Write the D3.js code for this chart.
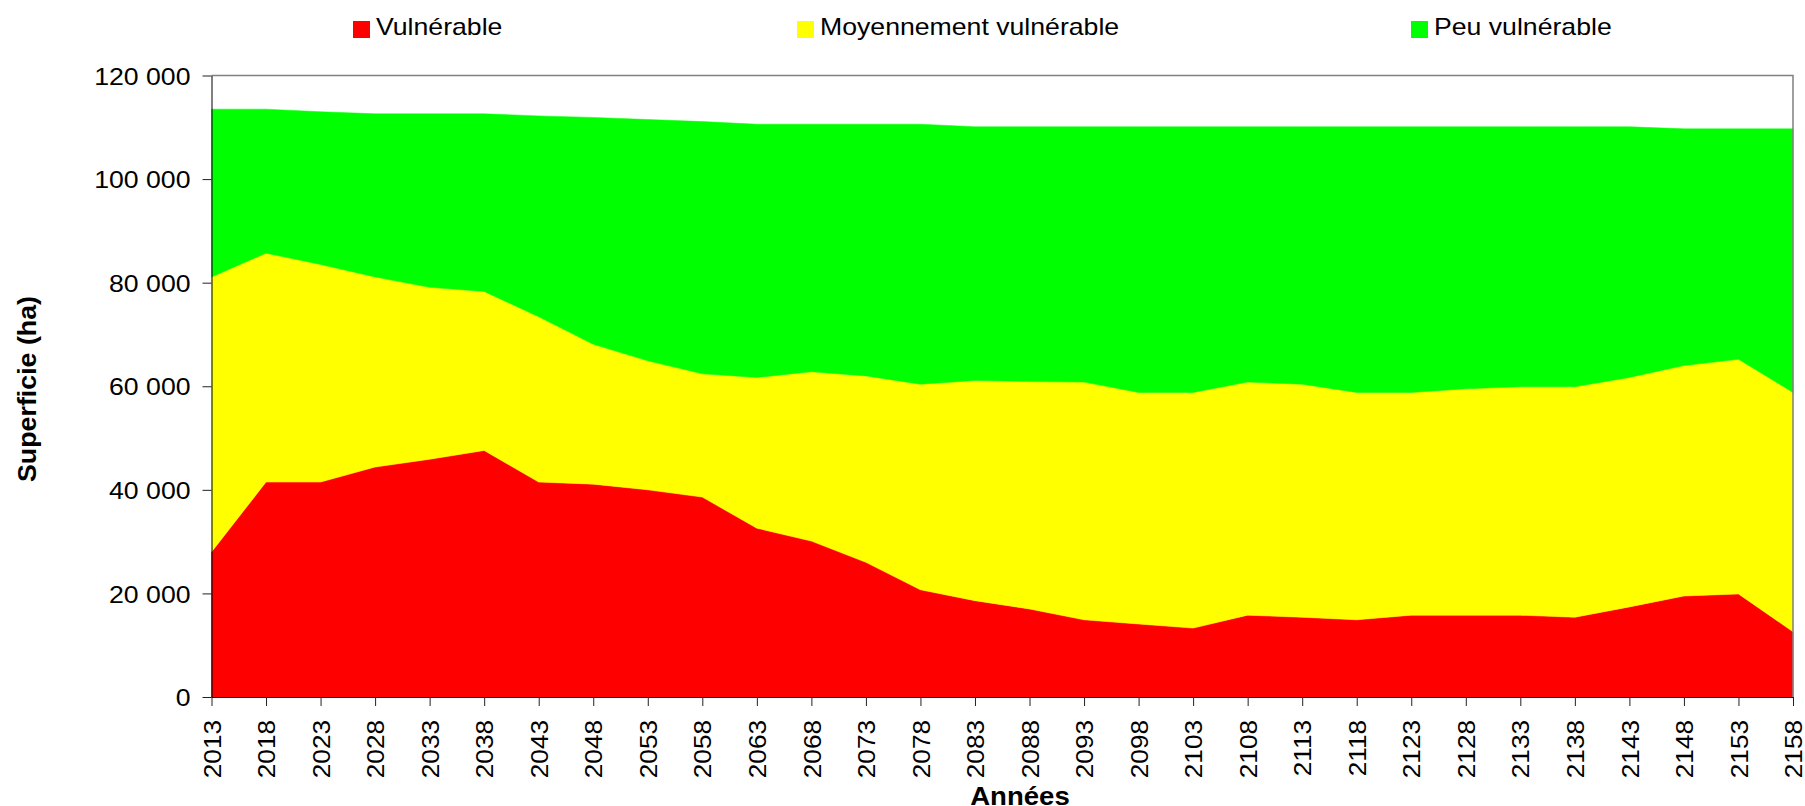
<!DOCTYPE html>
<html>
<head>
<meta charset="utf-8">
<script src="https://cdn.jsdelivr.net/npm/d3@7"></script>
<style>
  body { margin: 0; background: #fff; }
  text { font-family: "Liberation Sans", Arial, sans-serif; fill: #000; }
</style>
</head>
<body>
<svg id="chart" width="1805" height="806"></svg>
<script>
// années (tous les 5 ans)
var years = [2013, 2018, 2023, 2028, 2033, 2038, 2043, 2048, 2053, 2058,
  2063, 2068, 2073, 2078, 2083, 2088, 2093, 2098, 2103, 2108,
  2113, 2118, 2123, 2128, 2133, 2138, 2143, 2148, 2153, 2158]

// superficie (ha) par classe
var vulnerable = [28000, 41500, 41500, 44400, 45900, 47600, 41500, 41100, 40000, 38600,
  32600, 30100, 26000, 20700, 18600, 17000, 14900, 14100, 13300, 15800,
  15400, 14900, 15800, 15800, 15800, 15400, 17400, 19500, 19900, 12600]
var moyennement = [53100, 44200, 42000, 36700, 33200, 30700, 31900, 27000, 24900, 23800,
  29100, 32700, 36000, 39700, 42500, 43900, 45900, 44700, 45500, 45000,
  45000, 43900, 43000, 43700, 44100, 44500, 44300, 44500, 45300, 46200]
var peu = [32400, 27800, 29500, 31500, 33500, 34300, 38800, 43800, 46600, 48700,
  48900, 47800, 48600, 50200, 49000, 49200, 49300, 51300, 51300, 49300,
  49700, 51300, 51300, 50600, 50200, 50200, 48400, 45700, 44500, 50900]

var series = ['Vulnérable', 'Moyennement vulnérable', 'Peu vulnérable']
var colors = ['#ff0000', '#ffff00', '#00ff00']
var yTicks = [0, 20000, 40000, 60000, 80000, 100000, 120000]

var rows = years.map(function(y, i) {
  var r = { year: y }
  r[series[0]] = vulnerable[i]
  r[series[1]] = moyennement[i]
  r[series[2]] = peu[i]
  return r
})

// plot box (window.top is read-only, hence the prefix)
var pLeft = 211.5, pRight = 1793, pTop = 75.5, pBottom = 697

var svg = d3.select('#chart')

var x = d3.scalePoint().domain(years).range([pLeft, pRight]).padding(0)
var y = d3.scaleLinear().domain([0, 120000]).range([pBottom, pTop])

var fr = d3.formatLocale({ decimal: ',', thousands: ' ', grouping: [3], currency: ['', ''] })
var fmt = fr.format(',d')

// stretch text a little, the source font is wider than Arial
function widen(k) {
  return function() {
    var w = this.getComputedTextLength()
    d3.select(this).attr('textLength', w * k).attr('lengthAdjust', 'spacingAndGlyphs')
  }
}

var stacked = d3.stack().keys(series)(rows)

var area = d3.area()
  .x(function(d) { return x(d.data.year) })
  .y0(function(d) { return y(d[0]) })
  .y1(function(d) { return y(d[1]) })

svg.append('g')
  .selectAll('path')
  .data(stacked)
  .enter()
  .append('path')
  .attr('d', area)
  .style('fill', function(d, i) { return colors[i] })
  .style('stroke', function(d, i) { return colors[i] })
  .style('stroke-width', 0.5)

// plot frame (gris en haut et à droite)
svg.append('path')
  .attr('d', 'M' + pLeft + ',' + pTop + 'H' + pRight + 'V' + pBottom)
  .attr('fill', 'none')
  .attr('stroke', '#808080')
  .attr('stroke-width', 1.5)

// axe Y
var yAxis = svg.append('g')
  .attr('transform', 'translate(' + pLeft + ',0)')
  .call(d3.axisLeft(y).tickValues(yTicks).tickFormat(fmt).tickSize(9).tickSizeOuter(0).tickPadding(12))
yAxis.select('.domain').attr('stroke', '#000')
yAxis.selectAll('.tick line').attr('stroke', '#222')
yAxis.selectAll('text')
  .attr('font-size', 24)
  .attr('font-family', '"Liberation Sans", Arial, sans-serif')
  .attr('fill', '#000')
  .attr('dy', '0.36em')
  .each(widen(1.11))

// axe X
var xAxis = svg.append('g')
  .attr('transform', 'translate(0,' + pBottom + ')')
  .call(d3.axisBottom(x).tickSize(9).tickSizeOuter(0))
xAxis.select('.domain').attr('stroke', '#000')
xAxis.selectAll('.tick line').attr('stroke', '#222')
xAxis.selectAll('text')
  .attr('font-size', 24)
  .attr('font-family', '"Liberation Sans", Arial, sans-serif')
  .attr('fill', '#000')
  .attr('text-anchor', 'end')
  .attr('transform', 'translate(0,23) rotate(-90)')
  .attr('x', 0)
  .attr('y', 0)
  .attr('dy', '0.36em')
  .each(widen(1.09))

// titres
svg.append('text')
  .attr('transform', 'translate(35.5,389) rotate(-90)')
  .attr('text-anchor', 'middle')
  .attr('font-size', 26)
  .attr('font-weight', 'bold')
  .text('Superficie (ha)')
  .each(widen(1.03))

svg.append('text')
  .attr('x', 1020)
  .attr('y', 804.5)
  .attr('text-anchor', 'middle')
  .attr('font-size', 26)
  .attr('font-weight', 'bold')
  .text('Années')
  .each(widen(1.06))

// légende
var legendX = [353, 797, 1411]
var lg = svg.append('g')
  .selectAll('g')
  .data(series)
  .enter()
  .append('g')
  .attr('transform', function(d, i) { return 'translate(' + legendX[i] + ',0)' })
lg.append('rect')
  .attr('x', 0)
  .attr('y', 21)
  .attr('width', 17)
  .attr('height', 17)
  .attr('fill', function(d, i) { return colors[i] })
lg.append('text')
  .attr('x', 23)
  .attr('y', 35)
  .attr('font-size', 24)
  .text(function(d) { return d })
  .each(widen(1.11))
</script>
</body>
</html>
